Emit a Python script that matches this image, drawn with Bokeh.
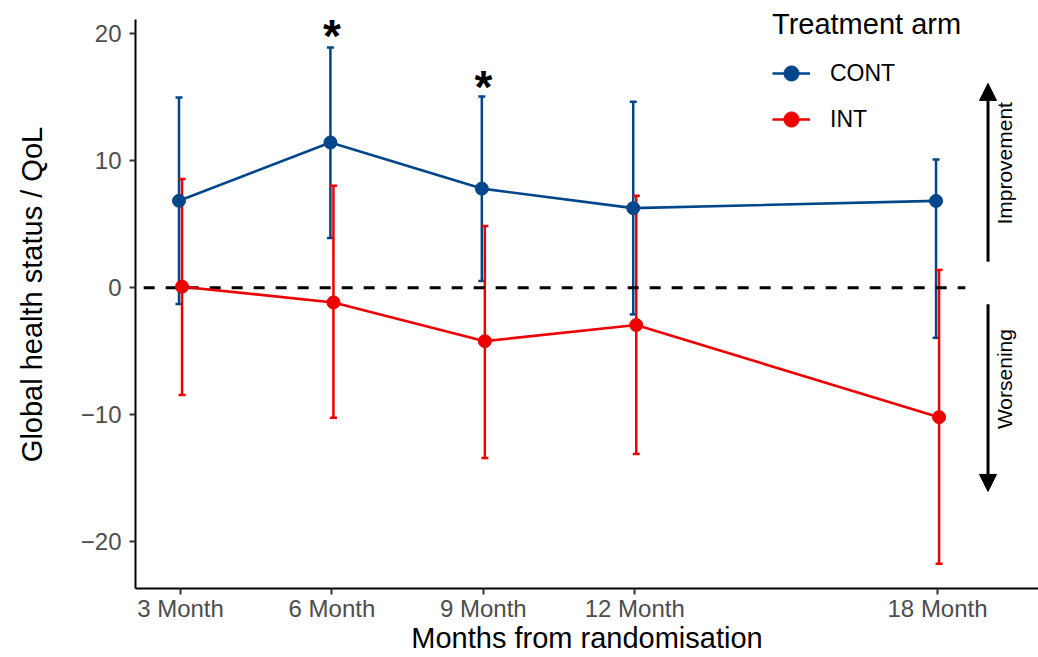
import math
from bokeh.plotting import figure
from bokeh.models import (ColumnDataSource, Whisker, TeeHead, Arrow, NormalHead,
                          Legend, LegendItem, FixedTicker, Label, Range1d)
from bokeh.embed import file_html
from bokeh.resources import INLINE
from bokeh.core.properties import value

# ---- data ----
months = [3, 6, 9, 12, 18]
tick_labels = ["3 Month", "6 Month", "9 Month", "12 Month", "18 Month"]
y_ticks = [-20, -10, 0, 10, 20]
y_tick_labels = ["\u221220", "\u221210", "0", "10", "20"]

cont_mean = [6.85, 11.44, 7.81, 6.27, 6.84]
cont_lower = [-1.29, 3.91, 0.53, -2.10, -3.95]
cont_upper = [14.98, 18.92, 15.07, 14.66, 10.10]

int_mean = [0.08, -1.16, -4.21, -2.94, -10.20]
int_lower = [-8.45, -10.25, -13.42, -13.10, -21.75]
int_upper = [8.56, 8.03, 4.87, 7.24, 1.40]

star_months = [6, 9]
star_y = [19.8, 15.85]

FONT = "Liberation Sans"
BLUE = "#00468B"
RED = "#ED0000"
dodge = 0.03
W, H = 1038, 657
Y_LO, Y_AXIS_TOP, Y_HI = -23.7, 21.15, 22.63

p = figure(width=W, height=H, output_backend="svg", toolbar_location=None,
           x_range=Range1d(2.108, 20.0), y_range=Range1d(Y_LO, Y_HI),
           min_border_left=135, min_border_right=0, min_border_top=0, min_border_bottom=69)
p.outline_line_color = None
p.grid.visible = False
p.background_fill_color = "white"
p.border_fill_color = "white"

# zero reference line
p.segment(x0=[2.27], y0=[0], x1=[18.55], y1=[0], line_color="black", line_width=3,
          line_dash="11 11")

def series(mean, lo, up, color, shift):
    xs = [m + shift for m in months]
    src = ColumnDataSource(dict(x=xs, y=mean, lo=lo, up=up))
    w = Whisker(source=src, base="x", lower="lo", upper="up", dimension="height",
                line_color=color, line_width=2.5,
                lower_head=TeeHead(size=7, line_color=color, line_width=2.5),
                upper_head=TeeHead(size=7, line_color=color, line_width=2.5))
    p.add_layout(w)
    l = p.line("x", "y", source=src, line_color=color, line_width=2.6)
    c = p.scatter("x", "y", source=src, size=13, fill_color=color, line_color=color)
    return l, c

cl, cc = series(cont_mean, cont_lower, cont_upper, BLUE, -dodge)
il, ic = series(int_mean, int_lower, int_upper, RED, dodge)

# stars
p.text(x=star_months, y=star_y, text=["*", "*"], text_font=value(FONT),
       text_font_size="46px", text_font_style="bold", text_align="center",
       text_baseline="alphabetic", text_color="black")

# arrows
p.add_layout(Arrow(end=NormalHead(size=17, fill_color="black", line_color="black"),
                   x_start=19.0, y_start=2.05, x_end=19.0, y_end=16.1,
                   line_width=3, line_color="black"))
p.add_layout(Arrow(end=NormalHead(size=17, fill_color="black", line_color="black"),
                   x_start=19.0, y_start=-1.3, x_end=19.0, y_end=-16.05,
                   line_width=3, line_color="black"))
p.add_layout(Label(x=19.33, y=9.8, text="Improvement", angle=math.pi / 2,
                   text_font=FONT, text_font_size="21px", text_align="center",
                   text_baseline="middle", text_color="black"))
p.add_layout(Label(x=19.33, y=-7.2, text="Worsening", angle=math.pi / 2,
                   text_font=FONT, text_font_size="21px", text_align="center",
                   text_baseline="middle", text_color="black"))

# axes
for ax in (p.xaxis[0], p.yaxis[0]):
    ax.axis_line_color = "black"
    ax.axis_line_width = 2
    ax.major_tick_line_color = "#333333"
    ax.major_tick_line_width = 2
    ax.major_tick_out = 6
    ax.major_tick_in = 0
    ax.minor_tick_line_color = None
    ax.major_label_text_font = FONT
    ax.major_label_text_font_size = "24px"
    ax.major_label_text_color = "#4D4D4D"
    ax.axis_label_text_font = FONT
    ax.axis_label_text_font_size = "29px"
    ax.axis_label_text_font_style = "normal"
    ax.axis_label_text_color = "black"

p.xaxis.ticker = FixedTicker(ticks=months)
p.xaxis.major_label_overrides = {m: t for m, t in zip(months, tick_labels)}
p.xaxis.axis_label = "Months from randomisation"
p.xaxis.major_label_standoff = 0
p.xaxis.axis_label_standoff = -3

p.yaxis.ticker = FixedTicker(ticks=y_ticks)
p.yaxis.major_label_overrides = {t: l for t, l in zip(y_ticks, y_tick_labels)}
p.yaxis.axis_label = "Global health status / QoL"
p.yaxis.major_label_standoff = 8
p.yaxis.axis_label_standoff = 30
p.yaxis.bounds = (Y_LO, Y_AXIS_TOP)

legend = Legend(items=[LegendItem(label="CONT", renderers=[cl, cc]),
                       LegendItem(label="INT", renderers=[il, ic])],
                title="Treatment arm", location=(637, 449))
legend.title_text_font = FONT
legend.title_text_font_size = "29px"
legend.title_text_font_style = "normal"
legend.title_text_color = "black"
legend.title_standoff = 12
legend.label_text_font = FONT
legend.label_text_font_size = "23px"
legend.label_text_color = "black"
legend.glyph_width = 38
legend.glyph_height = 40
legend.label_height = 40
legend.label_standoff = 20
legend.spacing = 6
legend.padding = 0
legend.margin = 0
legend.border_line_color = None
legend.background_fill_alpha = 0
p.add_layout(legend)

open("out.html", "w").write(file_html(p, INLINE))
